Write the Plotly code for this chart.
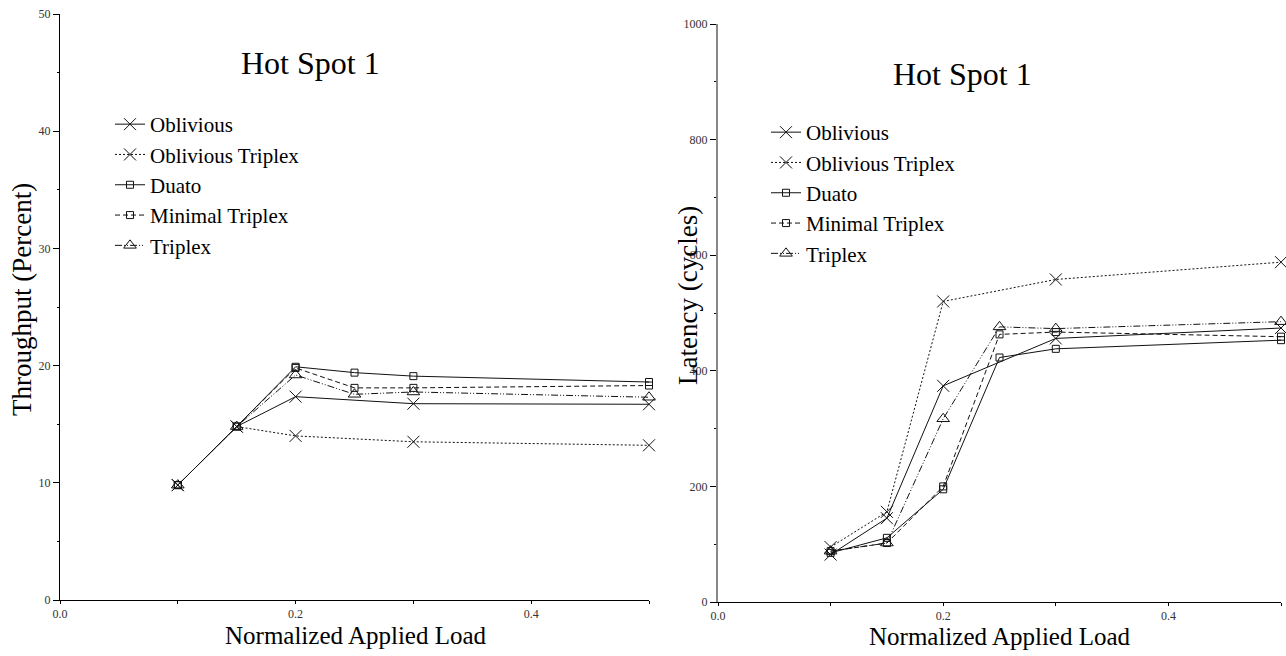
import plotly.graph_objects as go

# ---------------- data ----------------
series_names = ["Oblivious", "Oblivious Triplex", "Duato", "Minimal Triplex", "Triplex"]

load_5 = [0.10, 0.15, 0.20, 0.30, 0.50]
load_6 = [0.10, 0.15, 0.20, 0.25, 0.30, 0.50]

# Throughput (percent)
thr_oblivious = [9.8, 14.8, 17.35, 16.75, 16.7]
thr_obl_triplex = [9.8, 14.8, 14.0, 13.5, 13.2]
thr_duato = [9.8, 14.8, 19.9, 19.4, 19.1, 18.6]
thr_min_triplex = [9.8, 14.8, 19.8, 18.1, 18.1, 18.3]
thr_triplex = [9.8, 14.8, 19.2, 17.55, 17.75, 17.3]

# Latency (cycles)
lat_oblivious = [82, 145, 374, 456, 474]
lat_obl_triplex = [95, 156, 520, 558, 588]
lat_duato = [85, 111, 195, 423, 438, 453]
lat_min_triplex = [88, 102, 200, 463, 467, 459]
lat_triplex = [88, 102, 317, 476, 473, 485]

chart_title = "Hot Spot 1"
x_title = "Normalized Applied Load"
y_title_left = "Throughput (Percent)"
y_title_right = "Latency (cycles)"

# ---------------- styles ----------------
styles = {
    "Oblivious": dict(dash="solid", symbol="x-thin-open", size=12),
    "Oblivious Triplex": dict(dash="2px,2px", symbol="x-thin-open", size=12),
    "Duato": dict(dash="solid", symbol="square-open", size=7),
    "Minimal Triplex": dict(dash="5px,3px", symbol="square-open", size=7),
    "Triplex": dict(dash="7px,2px,1px,2px,1px,2px", symbol="triangle-up-open", size=11),
}

FONT = "Liberation Serif, Times New Roman, serif"
W, H = 1286, 656

def px(v):
    return v / W

def py(v):
    return 1 - v / H

fig = go.Figure()

left = [
    ("Oblivious", load_5, thr_oblivious),
    ("Oblivious Triplex", load_5, thr_obl_triplex),
    ("Duato", load_6, thr_duato),
    ("Minimal Triplex", load_6, thr_min_triplex),
    ("Triplex", load_6, thr_triplex),
]
right = [
    ("Oblivious", load_5, lat_oblivious),
    ("Oblivious Triplex", load_5, lat_obl_triplex),
    ("Duato", load_6, lat_duato),
    ("Minimal Triplex", load_6, lat_min_triplex),
    ("Triplex", load_6, lat_triplex),
]

for group, xa, ya, lg in ((left, "x", "y", "legend"), (right, "x2", "y2", "legend2")):
    for name, xs, ys in group:
        s = styles[name]
        fig.add_trace(go.Scatter(
            x=xs, y=ys, name=name, mode="lines+markers",
            line=dict(color="#111", width=1, dash=s["dash"]),
            marker=dict(symbol=s["symbol"], size=s["size"], color="#111",
                        line=dict(color="#111", width=1)),
            xaxis=xa, yaxis=ya, legend=lg, cliponaxis=False,
        ))

tickfont = dict(family=FONT, size=12, color="#333")
titlefont = dict(family=FONT, size=25, color="#000")
ytitlefont = dict(family=FONT, size=27, color="#000")

xcommon = dict(
    range=[0, 0.5], tick0=0, dtick=0.2, tickformat=".1f",
    ticks="outside", ticklen=3, tickcolor="#000", tickwidth=1,
    minor=dict(dtick=0.1, ticks="outside", ticklen=3, tickcolor="#000"),
    showline=True, linecolor="#000", linewidth=1,
    showgrid=False, zeroline=False, tickfont=tickfont, automargin=False,
)

legend_common = dict(
    xanchor="left", yanchor="top",
    font=dict(family=FONT, size=21, color="#000"),
    bgcolor="rgba(0,0,0,0)", itemwidth=30, tracegroupgap=0,
)

def ann(text, x, y, font, angle=0):
    return dict(text=text, x=px(x), y=py(y), xref="paper", yref="paper",
                xanchor="center", yanchor="middle", textangle=angle,
                showarrow=False, font=font)

fig.update_layout(
    width=W, height=H,
    margin=dict(l=0, r=0, t=0, b=0, autoexpand=False),
    paper_bgcolor="white", plot_bgcolor="white",
    font=dict(family=FONT, color="#000"),
    xaxis=dict(domain=[px(60), px(649)], anchor="y", **xcommon),
    yaxis=dict(
        domain=[py(600), py(14)], anchor="x",
        range=[0, 50], dtick=10, ticks="outside", ticklen=6, tickcolor="#000",
        minor=dict(dtick=5, ticks="outside", ticklen=2, tickcolor="#000"),
        showline=True, linecolor="#000", linewidth=1,
        showgrid=False, zeroline=False, tickfont=tickfont, automargin=False,
    ),
    xaxis2=dict(domain=[px(718), px(1281)], anchor="y2", **xcommon),
    yaxis2=dict(
        domain=[py(602), py(24)], anchor="x2",
        range=[0, 1000], dtick=200, ticks="outside", ticklen=6, tickcolor="#000",
        minor=dict(dtick=100, ticks="outside", ticklen=2, tickcolor="#000"),
        showline=True, linecolor="#888", linewidth=2,
        showgrid=False, zeroline=False, tickfont=tickfont, automargin=False,
    ),
    legend=dict(x=px(110), y=py(104), **legend_common),
    legend2=dict(x=px(766), y=py(112), **legend_common),
    annotations=[
        ann(chart_title, 310, 63, dict(family=FONT, size=32, color="#000")),
        ann(chart_title, 962, 74, dict(family=FONT, size=32, color="#000")),
        ann(x_title, 356, 635, titlefont),
        ann(x_title, 1000, 636, titlefont),
        ann(y_title_left, 22, 300, ytitlefont, -90),
        ann(y_title_right, 688, 296, ytitlefont, -90),
    ],
)

fig.write_html(
    "out.html",
    config={"displayModeBar": False},
    post_script="document.body.style.margin='0px';document.body.style.overflow='hidden';",
)
